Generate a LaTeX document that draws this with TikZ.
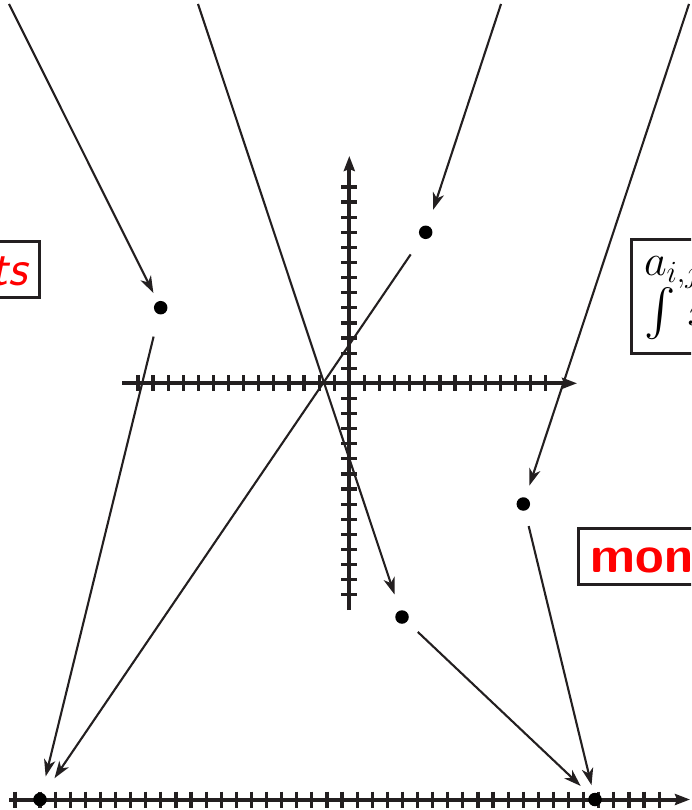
\RequirePackage{fix-cm}
\documentclass[tikz,border=0pt]{standalone}
\usepackage{exscale}
\usepackage{graphicx}
\usetikzlibrary{arrows.meta}
\definecolor{ink}{RGB}{35,31,32}
\tikzset{
  axisline/.style={draw=ink, line width=4pt, -{Stealth[length=15pt,width=11pt,inset=2pt]}},
  tickmark/.style={draw=ink, line width=3.2pt},
  conn/.style={draw=ink, line width=2.1pt, -{Stealth[length=17pt,width=11.5pt,inset=5pt]}},
  dotnode/.style={circle, fill=black, minimum size=13.5pt, inner sep=0pt, outer sep=0pt},
  labelbox/.style={draw=ink, line width=2.6pt, inner xsep=12.5pt, inner ysep=10pt,
    text height=34pt, text depth=2pt, outer sep=0pt, text=red},
  mathtext/.style={inner sep=0pt, outer sep=0pt, font=\fontsize{44}{50}\selectfont, anchor=base west},
}
\begin{document}
\begin{tikzpicture}[x=1pt,y=-1pt]
\useasboundingbox (0,0) rectangle (691,810);
\clip (0,0) rectangle (691,810);
% axis end points
\coordinate (hl) at (122,383.3);
\coordinate (hr) at (577,383.3);
\coordinate (vb) at (349.3,610);
\coordinate (vt) at (349.3,156);
\coordinate (bl) at (9,799.5);
\coordinate (br) at (690,799.5);
% ticks
\foreach \k in {1,...,14} \draw[tickmark] ({349.3-15.1*\k},375.3) -- ++(0,16);
\foreach \k in {1,...,13} \draw[tickmark] ({349.3+15.1*\k},375.3) -- ++(0,16);
\foreach \k in {1,...,13} \draw[tickmark] (341.3,{383.3-15.1*\k}) -- ++(16,0);
\foreach \k in {1,...,14} \draw[tickmark] (341.3,{383.3+15.1*\k}) -- ++(16,0);
\draw[tickmark] (15,791.5) -- ++(0,16);
\foreach \k in {0,...,41} \draw[tickmark] ({40+15.1*\k},791.5) -- ++(0,16);
% axes
\draw[axisline] (hl) -- (hr);
\draw[axisline] (vb) -- (vt);
\draw[axisline] (bl) -- (br);
% dots
\node[dotnode] (A) at (160.7,307.7) {};
\node[dotnode] (B) at (425.7,232.3) {};
\node[dotnode] (C) at (523.3,504) {};
\node[dotnode] (D) at (402,617) {};
\node[dotnode] (E) at (40,799.5) {};
\node[dotnode] (F) at (595,799.5) {};
% free ends at the top
\coordinate (s1) at (9,4);
\coordinate (s2) at (198,4);
\coordinate (s3) at (501,4);
\coordinate (s4) at (689,4);
% connectors
\draw[conn, shorten >=9.6pt] (s1) -- (A);
\draw[conn, shorten >=17pt] (s2) -- (D);
\draw[conn, shorten >=17pt] (s3) -- (B);
\draw[conn, shorten >=12.7pt] (s4) -- (C);
\draw[conn, shorten <=23pt, shorten >=17pt] (A) -- (E);
\draw[conn, shorten <=20pt, shorten >=19pt] (B) -- (E);
\draw[conn, shorten <=15pt, shorten >=13pt] (D) -- (F);
\draw[conn, shorten <=16pt, shorten >=8pt] (C) -- (F);
% boxes
\node[labelbox, font=\fontsize{52}{60}\selectfont\sffamily\itshape, anchor=base east] (ts) at (39.3,285.5) {ts};
\node[labelbox, font=\fontsize{52}{60}\selectfont\sffamily\bfseries, anchor=base west] (mon) at (578.3,572.5) {mon};
\node[draw=ink, line width=2.6pt, minimum width=150pt, minimum height=114.4pt, inner sep=0pt, outer sep=0pt, anchor=north west] (mbox) at (631.3,239.3) {};
\node[mathtext] (m1) at (644,275.5) {$a_{i,j}$};
\node[mathtext] (m2) at (644,325) {$\vcenter{\hbox{\scalebox{1.89}{$\int$}}}\mkern5mu x$};
\end{tikzpicture}
\end{document}
